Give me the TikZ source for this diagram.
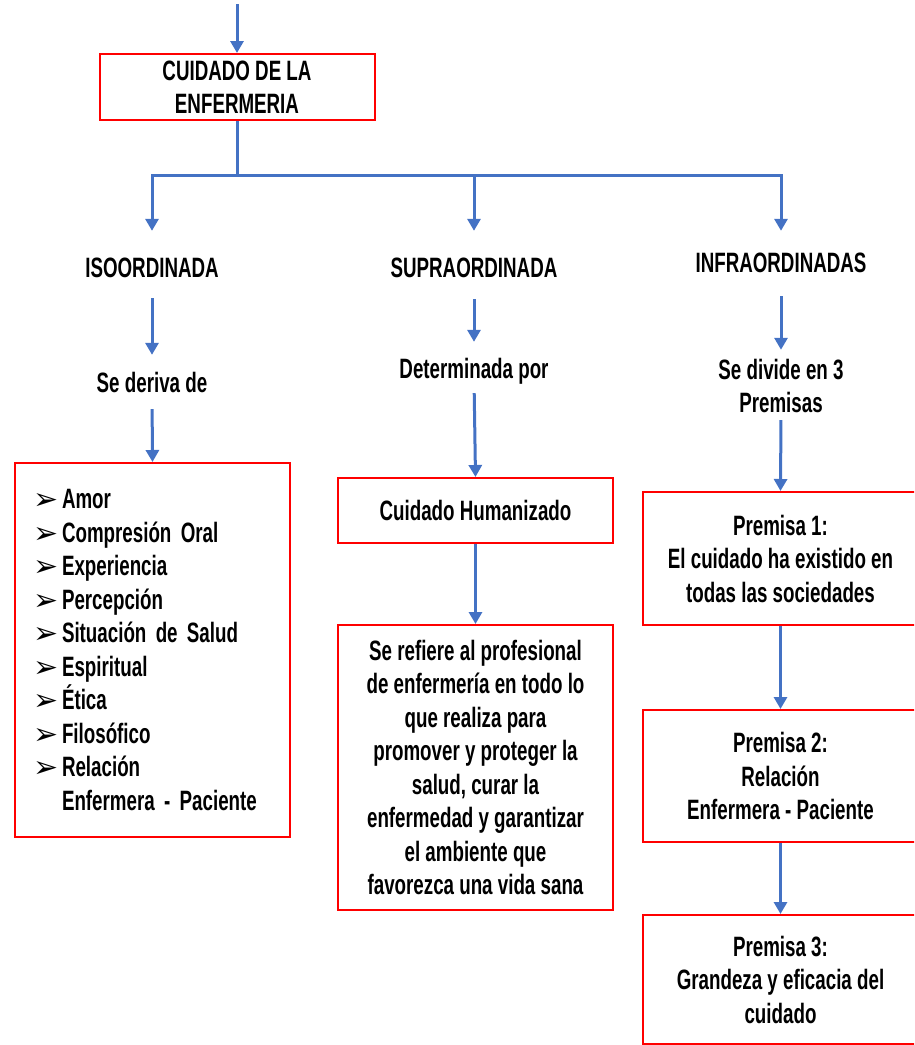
\documentclass[tikz,border=0pt]{standalone}
\usepackage{fontspec}
\usetikzlibrary{arrows.meta}
\newfontfamily\agency[FakeStretch=0.67]{Liberation Sans Bold}
\newfontfamily\dvs{DejaVu Sans}
\newcommand\txt{\agency\fontsize{28}{33.5}\selectfont}
\newcommand\bul{\makebox[29pt][l]{\raisebox{-1pt}{\dvs\fontsize{30}{33.5}\selectfont ➢}}}
\definecolor{arrblue}{HTML}{4472C4}
\definecolor{boxred}{HTML}{FF0000}
\tikzset{
  box/.style={draw=boxred, line width=2pt, minimum width=275pt, inner sep=0pt, align=center, font=\txt},
  lbl/.style={inner sep=0pt, font=\txt, align=center},
  one/.style={lbl, text height=20pt, text depth=0pt},
  conn/.style={draw=arrblue, line width=3pt},
  arr/.style={conn, -{Triangle[width=13pt,length=12pt]}},
}
\begin{document}
\begin{tikzpicture}[x=1pt,y=-1pt]
\useasboundingbox (0,0) rectangle (914,1045);
\clip (0,0) rectangle (914,1045);

% top
\node[box, minimum height=66pt] (cuid) at (237,87) {CUIDADO DE LA\\ENFERMERIA};
\coordinate (top) at (237,4);
\coordinate (hub) at (237,175);

% column labels
\node[one] (iso) at (152,267) {ISOORDINADA};
\node[one] (supra) at (474,267) {SUPRAORDINADA};
\node[one] (infra) at (781,262) {INFRAORDINADAS};

\node[one] (deriva) at (152,382) {Se deriva de};
\node[one] (deter) at (474,368) {Determinada por};
\node[lbl] (divide) at (781,386) {Se divide en 3\\Premisas};

% column 1 box
\node[box, minimum height=374pt, text width=239pt, align=left] (isobox) at (152.5,650) {%
\bul Amor\\
\bul Compresión Oral\\
\bul Experiencia\\
\bul Percepción\\
\bul Situación de Salud\\
\bul Espiritual\\
\bul Ética\\
\bul Filosófico\\
\bul Relación\\
\makebox[29pt]{}Enfermera - Paciente};

% column 2 boxes
\node[box, minimum height=65pt] (hum) at (475.5,510.5) {Cuidado Humanizado};
\node[box, minimum height=285pt] (big) at (475.5,767.5) {Se refiere al profesional\\de enfermería en todo lo\\que realiza para\\promover y proteger la\\salud, curar la\\enfermedad y garantizar\\el ambiente que\\favorezca una vida sana};

% column 3 boxes
\node[box, minimum height=133pt] (p1) at (780.5,558.5) {Premisa 1:\\El cuidado ha existido en\\todas las sociedades};
\node[box, minimum height=132pt] (p2) at (780.5,776) {Premisa 2:\\Relación\\Enfermera - Paciente};
\node[box, minimum height=129pt] (p3) at (780.5,979.5) {Premisa 3:\\Grandeza y eficacia del\\cuidado};

% connectors
\draw[arr] (top) -- (cuid.north);
\draw[conn] (cuid.south) -- (hub);
\draw[arr, shorten >=26pt] (hub) -| (iso.north);
\draw[arr, shorten >=26pt] (hub) -| (supra.north);
\draw[arr, shorten >=21pt] (hub) -| (infra.north);

\draw[arr, shorten <=21pt, shorten >=17pt] (iso.south) -- (deriva.north);
\draw[arr, shorten <=17pt] (deriva.south) -- (isobox.north);

\draw[arr, shorten <=22pt, shorten >=16pt] (supra.south) -- (deter.north);
\draw[arr, shorten <=15pt] (deter.south) -- (hum.north);
\draw[arr] (hum.south) -- (big.north);

\draw[arr, shorten <=24pt, shorten >=9pt] (infra.south) -- (divide.north);
\draw[arr, shorten <=7pt] (divide.south) -- (p1.north);
\draw[arr] (p1.south) -- (p2.north);
\draw[arr] (p2.south) -- (p3.north);
\end{tikzpicture}
\end{document}
